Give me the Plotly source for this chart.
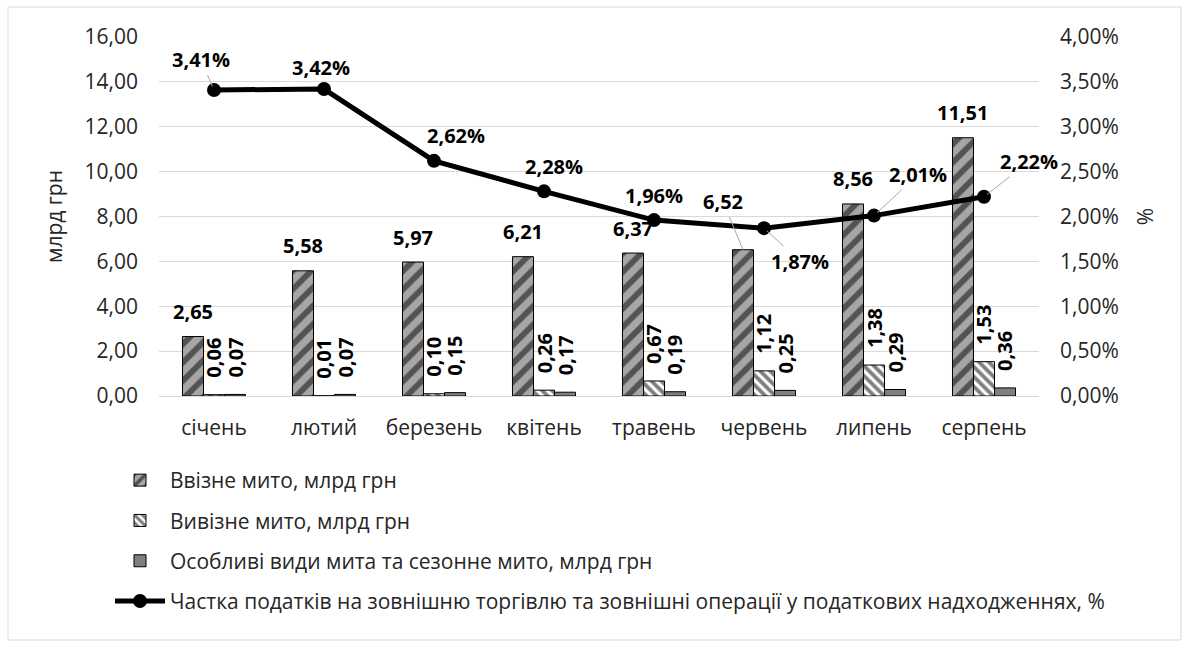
import plotly.graph_objects as go

# Monthly customs revenue (bn UAH) and share of foreign-trade taxes (%)
months = ["січень", "лютий", "березень", "квітень", "травень", "червень", "липень", "серпень"]
import_duty = [2.65, 5.58, 5.97, 6.21, 6.37, 6.52, 8.56, 11.51]
export_duty = [0.06, 0.01, 0.10, 0.26, 0.67, 1.12, 1.38, 1.53]
special_duty = [0.07, 0.07, 0.15, 0.17, 0.19, 0.25, 0.29, 0.36]
trade_tax_share = [3.41, 3.42, 2.62, 2.28, 1.96, 1.87, 2.01, 2.22]

left_ticks = [0, 2, 4, 6, 8, 10, 12, 14, 16]
right_ticks = [0, 0.5, 1.0, 1.5, 2.0, 2.5, 3.0, 3.5, 4.0]

FONT = "Open Sans"
FS = 21
W, H = 1190, 648
ML, MR, MT, MB = 159, 151, 37, 252
PW, PH = W - ML - MR, H - MT - MB


def fmt(v, d=2):
    return f"{v:.{d}f}".replace(".", ",")


fig = go.Figure()

fig.add_trace(go.Bar(
    x=months, y=import_duty, name="Ввізне мито, млрд грн",
    marker=dict(color="#a6a6a6", line=dict(color="black", width=1),
                pattern=dict(shape="/", fgcolor="black", bgcolor="#a6a6a6", size=13, solidity=0.45)),
    legendgroup="g1",
))
fig.add_trace(go.Bar(
    x=months, y=export_duty, name="Вивізне мито, млрд грн",
    marker=dict(color="white", line=dict(color="black", width=1),
                pattern=dict(shape="\\", fgcolor="black", bgcolor="white", size=7, solidity=0.55)),
    legendgroup="g2",
))
fig.add_trace(go.Bar(
    x=months, y=special_duty, name="Особливі види мита та сезонне мито, млрд грн",
    marker=dict(color="#7f7f7f", line=dict(color="black", width=1)),
    legendgroup="g3",
))
fig.add_trace(go.Scatter(
    x=months, y=trade_tax_share, yaxis="y2", mode="lines+markers",
    name="Частка податків на зовнішню торгівлю та зовнішні операції у податкових надходженнях, %",
    line=dict(color="black", width=5), marker=dict(color="black", size=14),
    legendgroup="g4",
))

BARGAP = 0.427
bw = (1 - BARGAP) / 3
annotations = []

# import duty labels (horizontal, above the bars)
for i, v in enumerate(import_duty):
    if i == 5:
        annotations.append(dict(x=i - bw, y=v, xref="x", yref="y", text=f"<b>{fmt(v)}</b>",
                                showarrow=True, arrowhead=0, arrowwidth=1, arrowcolor="#a6a6a6",
                                ax=-20, ay=-48, standoff=0))
    else:
        annotations.append(dict(x=i - bw, y=v, xref="x", yref="y", text=f"<b>{fmt(v)}</b>",
                                showarrow=False, yanchor="middle", yshift=25))

# export / special labels (rotated)
for i, (e, s) in enumerate(zip(export_duty, special_duty)):
    annotations.append(dict(x=i, y=e, xref="x", yref="y", text=f"<b>{fmt(e)}</b>", textangle=-90,
                            showarrow=False, yanchor="bottom", yshift=15))
    annotations.append(dict(x=i + bw, y=s, xref="x", yref="y", text=f"<b>{fmt(s)}</b>", textangle=-90,
                            showarrow=False, yanchor="bottom", yshift=15))

# share labels; some carry a leader line
share_offsets = [(-13, -30, True), (-3, -22, False), (22, -25, False), (10, -25, False),
                 (0, -25, False), (36, 33, True), (44, -41, True), (45, -35, True)]
for i, (v, (dx, dy, lead)) in enumerate(zip(trade_tax_share, share_offsets)):
    txt = f"<b>{fmt(v)}%</b>"
    if lead:
        annotations.append(dict(x=i, y=v, xref="x", yref="y2", text=txt, showarrow=True,
                                arrowhead=0, arrowwidth=1, arrowcolor="#a6a6a6", ax=dx, ay=dy, standoff=4))
    else:
        annotations.append(dict(x=i, y=v, xref="x", yref="y2", text=txt, showarrow=False,
                                xshift=dx, yshift=-dy))

for a in annotations:
    a["font"] = dict(family=FONT, size=20, color="black")


def px2paper_x(px):
    return (px - ML) / PW


def px2paper_y(py):
    return (H - MB - py) / PH


fig.update_layout(
    width=W, height=H,
    margin=dict(l=ML, r=MR, t=MT, b=MB),
    paper_bgcolor="white", plot_bgcolor="white",
    font=dict(family=FONT, size=FS, color="#262626"),
    barmode="group", bargap=BARGAP, bargroupgap=0,
    xaxis=dict(type="category", categoryorder="array", categoryarray=months,
               range=[-0.5, 7.5], showgrid=False, showline=True, linecolor="#d9d9d9",
               ticks="", ticklabelstandoff=13, tickfont=dict(size=FS, color="#262626")),
    yaxis=dict(range=[0, 16], tickvals=left_ticks, ticktext=[fmt(t) for t in left_ticks],
               showgrid=True, gridcolor="#d9d9d9", gridwidth=1, zeroline=False,
               ticks="", ticklabelstandoff=20, tickfont=dict(size=FS, color="#262626"),
               title=dict(text="млрд грн", standoff=16, font=dict(size=FS, color="#262626"))),
    yaxis2=dict(range=[0, 4], overlaying="y", side="right", tickvals=right_ticks,
                ticktext=[fmt(t) + "%" for t in right_ticks], showgrid=False, zeroline=False,
                ticks="", ticklabelstandoff=20, tickfont=dict(size=FS, color="#262626"),
                title=dict(text="%", standoff=20, font=dict(size=FS, color="#262626"))),
    legend=dict(x=px2paper_x(110), y=px2paper_y(460), xanchor="left", yanchor="top",
                orientation="v", traceorder="grouped", tracegroupgap=10, itemwidth=50,
                font=dict(size=FS, color="#262626"), bgcolor="rgba(0,0,0,0)"),
    annotations=annotations,
    shapes=[dict(type="rect", xref="paper", yref="paper",
                 x0=px2paper_x(8), x1=px2paper_x(1181), y0=px2paper_y(640), y1=px2paper_y(7),
                 line=dict(color="#d9d9d9", width=1), fillcolor="rgba(0,0,0,0)", layer="below")],
    showlegend=True,
)

fig.write_html("out.html")
